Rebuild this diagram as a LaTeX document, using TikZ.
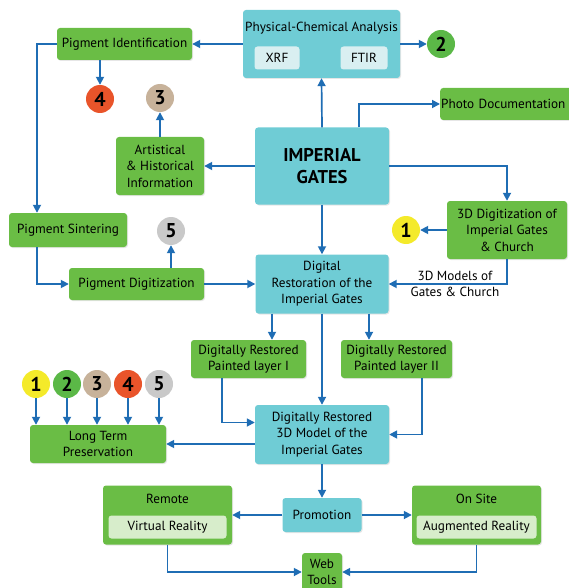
\documentclass[tikz,border=0pt]{standalone}
\usepackage{fontspec}
\setmainfont{PT Sans}
\usetikzlibrary{arrows.meta,positioning,shadows}

\definecolor{boxgreen}{HTML}{6ABD45}
\definecolor{boxcyan}{HTML}{6FCCD5}
\definecolor{innergreen}{HTML}{D7EDCB}
\definecolor{innercyan}{HTML}{D9EFF1}
\definecolor{arrowblue}{HTML}{1F6DB4}
\definecolor{numyellow}{HTML}{F4EA2A}
\definecolor{numgreen}{HTML}{5BB847}
\definecolor{numbeige}{HTML}{C7B29A}
\definecolor{numred}{HTML}{E9542A}
\definecolor{numgray}{HTML}{C9C9C9}

\newcommand{\boxfont}{\fontsize{13.2}{16.5}\selectfont}

\tikzset{
  greenbox/.style={rectangle, rounded corners=3pt, fill=boxgreen, align=center,
    inner sep=1pt, font=\boxfont,
    drop shadow={shadow xshift=1pt, shadow yshift=-1pt, opacity=.2}},
  cyanbox/.style={greenbox, fill=boxcyan},
  innerbox/.style={rectangle, rounded corners=3pt, fill=innercyan, inner sep=1pt,
    font=\boxfont},
  numdot/.style={circle, minimum size=28pt, inner sep=0pt,
    font=\fontsize{20}{20}\selectfont\bfseries},
  arr/.style={-{Triangle[length=8pt,width=8pt]}, draw=arrowblue, line width=1.7pt},
}

\begin{document}
\begin{tikzpicture}[x=1pt,y=-1pt]
\clip (0,0) rectangle (569,588);

% analysis
\node[cyanbox, minimum width=157, minimum height=68] (pca) at (321.5,44) {};
\node[font=\boxfont] (pcatitle) at (321.5,28) {Physical-Chemical Analysis};
\node[innerbox, minimum width=45, minimum height=23] (xrf) at (277,58) {XRF};
\node[innerbox, minimum width=47, minimum height=23] (ftir) at (364,58) {FTIR};
\node[numdot, fill=numgreen] (n2) at (441,44) {2};

\node[greenbox, minimum width=135, minimum height=32] (pident) at (124.5,44) {Pigment Identification};
\node[numdot, fill=numred] (n4) at (100,99) {4};
\node[numdot, fill=numbeige] (n3) at (160,98) {3};
\node[greenbox, minimum width=88, minimum height=58] (arthist) at (160,166)
  {Artistical\\ \& Historical\\ Information};

% gates
\node[cyanbox, minimum width=134, minimum height=77, font=\fontsize{18.5}{22}\selectfont\bfseries]
  (gates) at (322,166) {IMPERIAL\\ GATES};
\node[greenbox, anchor=west, minimum height=32, text width=152, align=left] (photo) at (440,104)
  {Photo Documentation};
\node[greenbox, minimum width=120, minimum height=58] (dig3d) at (507,230)
  {3D Digitization of\\ Imperial Gates\\ \& Church};
\node[numdot, fill=numyellow] (n1) at (406,230) {1};

% restoration
\node[cyanbox, minimum width=133, minimum height=59] (restor) at (322,284)
  {Digital\\ Restoration of the\\ Imperial Gates};
\node[greenbox, minimum width=118, minimum height=34] (sinter) at (68,230) {Pigment Sintering};
\node[greenbox, minimum width=135, minimum height=32] (pdigit) at (136.5,284) {Pigment Digitization};
\node[numdot, fill=numgray] (n5) at (171,231) {5};

\node[greenbox, minimum width=115, minimum height=38] (layer1) at (248.5,359)
  {Digitally Restored\\ Painted layer I};
\node[greenbox, minimum width=111, minimum height=38] (layer2) at (396.5,359)
  {Digitally Restored\\ Painted layer II};
\node[cyanbox, minimum width=134, minimum height=59] (model3d) at (322,434.5)
  {Digitally Restored\\ 3D Model of the\\ Imperial Gates};

% preservation
\node[greenbox, minimum width=136, minimum height=38] (ltp) at (98,444) {Long Term\\ Preservation};
\foreach \i/\x/\c in {1/36/numyellow, 2/67/numgreen, 3/97/numbeige, 4/128/numred, 5/159/numgray}
  \node[numdot, fill=\c] (p\i) at (\x,384) {\i};

% promotion
\node[cyanbox, minimum width=79, minimum height=34] (promo) at (322,515) {Promotion};
\node[greenbox, minimum width=129, minimum height=59] (remote) at (167.5,515) {};
\node[font=\boxfont] (remtitle) at (167.5,499) {Remote};
\node[innerbox, fill=innergreen, minimum width=118, minimum height=23] (vr) at (167.5,527) {Virtual Reality};
\node[greenbox, minimum width=129, minimum height=59] (onsite) at (476.5,515) {};
\node[font=\boxfont] (ostitle) at (476.5,499) {On Site};
\node[innerbox, fill=innergreen, minimum width=120, minimum height=23] (ar) at (476.5,527) {Augmented Reality};
\node[greenbox, minimum width=40, minimum height=38] (web) at (322,572) {Web\\ Tools};

% connectors
\draw[arr] (pca.west) -- (pident.east);
\draw[arr] (pca.east |- n2) -- (n2);
\draw[arr] (pident.south -| n4) -- (n4);
\draw[arr] (arthist.north) -- (n3);
\draw[arr] (gates.west) -- (arthist.east);
\draw[arr] (gates.north) -- (pca.south);
\draw[arr] ([xshift=37pt]gates.north) |- (photo.west);
\draw[arr] (gates.east) -| (dig3d.north);
\draw[arr] (dig3d.west) -- (n1);
\draw[arr] (dig3d.south) |- (restor.east)
  node[pos=0.72, align=center, font=\boxfont] (modlabel) {3D Models of\\ Gates \& Church};
\draw[arr] (gates.south) -- (restor.north);
\draw[arr] (pident.west) -| ([xshift=-31pt]sinter.north);
\draw[arr] ([xshift=-31pt]sinter.south) |- (pdigit.west);
\draw[arr] (pdigit.east) -- (restor.west);
\draw[arr] (pdigit.north -| n5) -- (n5);
\draw[arr] ([xshift=-50pt]restor.south) -- ([xshift=-50pt]restor.south |- layer1.north);
\draw[arr] ([xshift=47pt]restor.south) -- ([xshift=47pt]restor.south |- layer2.north);
\draw[arr] (restor.south) -- (model3d.north);
\draw[arr] ([xshift=-26.5pt]layer1.south) |- ([yshift=12pt]model3d.west);
\draw[arr] ([xshift=25.5pt]layer2.south) |- (model3d.east);
\draw[arr] (model3d.west |- ltp.east) -- (ltp.east);
\foreach \i in {1,...,5}
  \draw[arr] (p\i) -- (p\i |- ltp.north);
\draw[arr] (model3d.south) -- (promo.north);
\draw[arr] (promo.west) -- (remote.east);
\draw[arr] (promo.east) -- (onsite.west);
\draw[arr] (remote.south) |- (web.west);
\draw[arr] (onsite.south) |- (web.east);

\end{tikzpicture}
\end{document}
